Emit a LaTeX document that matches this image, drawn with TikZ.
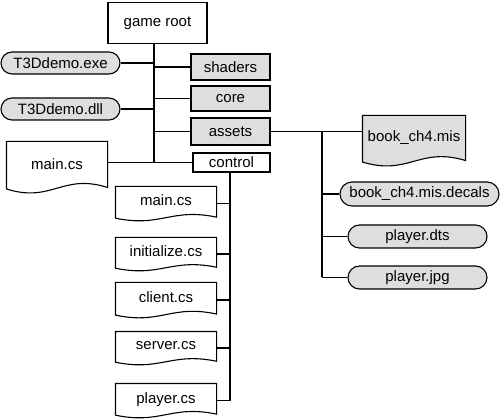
\documentclass[tikz,border=0pt]{standalone}
\usepackage{fontspec}
\setmainfont{Liberation Sans}
\usetikzlibrary{shapes.misc,calc,backgrounds}
\definecolor{boxgray}{HTML}{DEDEDE}
\newcommand\docoutline[2]{%
 \begin{scope}[on background layer]
 \path[draw, fill=#2, line width=1.1pt] let \p1=(#1.north west), \p2=(#1.south east), \n1={\x2-\x1}, \n2={\y1-\y2} in
   (\x1,\y1) -- (\x2,\y1) -- (\x2,{\y2+0.1*\n2*1pt}) .. controls ({\x2-0.45*\n1*1pt},{\y2+0.38*\n2*1pt}) and ({\x1+0.45*\n1*1pt},{\y2-0.21*\n2*1pt}) .. (\x1,{\y2+0.07*\n2*1pt}) -- cycle;
 \end{scope}}
\tikzset{
 base/.style={font=\fontsize{15}{18}\selectfont, inner sep=0pt, line width=1.1pt},
 box/.style={base, draw, rectangle, fill=white},
 gbox/.style={base, draw, rectangle, fill=boxgray},
 pill/.style={base, draw, rounded rectangle, fill=boxgray},
 doc/.style={base, rectangle},
 wire/.style={line width=1.3pt},
}
\begin{document}
\begin{tikzpicture}[x=1pt,y=-1pt]
\useasboundingbox (0,0) rectangle (500,419);
% nodes
\node[box, minimum width=99pt, minimum height=41pt] (root) at (157.5,23) {game root};
\node[pill, minimum width=119pt, minimum height=22pt] (exe) at (60.5,63) {T3Ddemo.exe};
\node[pill, minimum width=119pt, minimum height=22pt] (dll) at (60.5,109) {T3Ddemo.dll};
\node[gbox, minimum width=79pt, minimum height=26pt] (shaders) at (230.5,67) {shaders};
\node[gbox, minimum width=79pt, minimum height=25pt] (core) at (230.5,98.5) {core};
\node[gbox, minimum width=79pt, minimum height=27pt] (assets) at (230.5,131.5) {assets};
\node[box, minimum width=77pt, minimum height=19pt] (control) at (231.5,162.5) {control};
\node[doc, minimum width=100pt, minimum height=50pt] (mainL) at (57,167) {\raisebox{6pt}{main.cs}};
\docoutline{mainL}{white}
\node[doc, minimum width=102pt, minimum height=49pt] (book) at (414,140.5) {\raisebox{8pt}{book\_ch4.mis}};
\docoutline{book}{boxgray}
\node[pill, minimum width=159pt, minimum height=24pt] (decals) at (419.5,194) {book\_ch4.mis.decals};
\node[pill, minimum width=139pt, minimum height=23pt] (dts) at (417.5,236.5) {player.dts};
\node[pill, minimum width=139pt, minimum height=23pt] (jpg) at (417.5,277.5) {player.jpg};
\node[doc, minimum width=100pt, minimum height=33pt] (m1) at (166,203.5) {\raisebox{6pt}{main.cs}};
\docoutline{m1}{white}
\node[doc, minimum width=100pt, minimum height=32pt] (init) at (166,254) {\raisebox{5pt}{initialize.cs}};
\docoutline{init}{white}
\node[doc, minimum width=100pt, minimum height=34pt] (client) at (166,300) {\raisebox{6pt}{client.cs}};
\docoutline{client}{white}
\node[doc, minimum width=100pt, minimum height=32pt] (server) at (166,348) {\raisebox{6pt}{server.cs}};
\docoutline{server}{white}
\node[doc, minimum width=100pt, minimum height=33pt] (pl) at (166,400.5) {\raisebox{5pt}{player.cs}};
\docoutline{pl}{white}
% connectors
\coordinate (trunk) at (154,43);
\draw[wire] (trunk) -- (trunk |- control.west);
\draw[wire] (exe.east) -- (exe.east -| trunk);
\draw[wire] (dll.east) -- (dll.east -| trunk);
\draw[wire] (shaders.west -| trunk) -- (shaders.west);
\draw[wire] (core.west -| trunk) -- (core.west);
\draw[wire] (assets.west -| trunk) -- (assets.west);
\draw[wire] (mainL.east |- control.west) -- (control.west);
\coordinate (cv) at (230,172);
\draw[wire] (cv) -- (cv |- pl.east);
\draw[wire] (m1.east) -- (m1.east -| cv);
\draw[wire] (init.east) -- (init.east -| cv);
\draw[wire] (client.east) -- (client.east -| cv);
\draw[wire] (server.east) -- (server.east -| cv);
\draw[wire] (pl.east) -- (pl.east -| cv);
\draw[wire] (assets.east) -- (assets.east -| book.west);
\coordinate (br) at (322,132);
\draw[wire] (br) -- (br |- jpg.west);
\draw[wire] (br |- decals.west) -- (decals.west);
\draw[wire] (br |- dts.west) -- (dts.west);
\draw[wire] (br |- jpg.west) -- (jpg.west);
\end{tikzpicture}
\end{document}
